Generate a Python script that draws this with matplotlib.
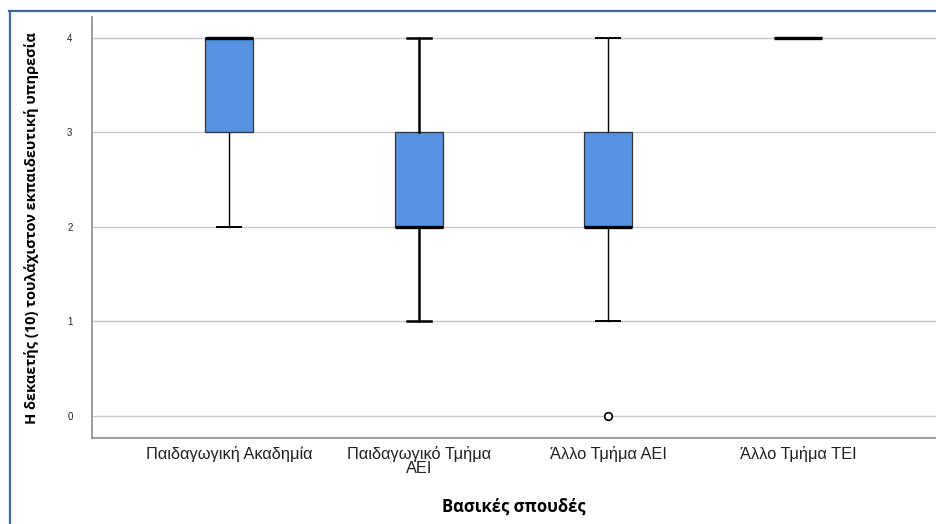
import matplotlib
matplotlib.use("Agg")
import matplotlib.pyplot as plt
from matplotlib.lines import Line2D

# ---------------- Data ----------------
categories = ["Παιδαγωγική Ακαδημία", "Παιδαγωγικό Τμήμα\nΑΕΙ", "Άλλο Τμήμα ΑΕΙ", "Άλλο Τμήμα ΤΕΙ"]
q1 = [3, 2, 2, 4]
median = [4, 2, 2, 4]
q3 = [4, 3, 3, 4]
whis_lo = [2, 1, 1, 4]
whis_hi = [4, 4, 4, 4]
outliers = [[], [], [0], []]
whisker_lw = [1.0, 1.8, 1.0, 1.0]

y_ticks = [0, 1, 2, 3, 4]
y_label = "Η δεκαετής (10) τουλάχιστον εκπαιδευτική υπηρεσία"
x_label = "Βασικές σπουδές"

BOX_COLOR = "#5592e1"

W, H = 936, 524
fig = plt.figure(figsize=(W / 100, H / 100), dpi=100)
ax = fig.add_axes([92 / W, 1 - 438 / H, 1 - 92 / W, (438 - 17) / H])

stats = []
for i in range(len(categories)):
    stats.append(dict(med=median[i], q1=q1[i], q3=q3[i],
                      whislo=whis_lo[i], whishi=whis_hi[i],
                      fliers=outliers[i], label=categories[i]))

positions = list(range(1, len(categories) + 1))
res = ax.bxp(stats, positions=positions, widths=0.253, patch_artist=True,
             showfliers=True,
             boxprops=dict(facecolor=BOX_COLOR, edgecolor="#333333", linewidth=0.9),
             medianprops=dict(color="black", linewidth=2.4, solid_capstyle="butt"),
             whiskerprops=dict(color="black", linewidth=1.0),
             capprops=dict(color="black", linewidth=1.0),
             flierprops=dict(marker="o", markerfacecolor="white", markeredgecolor="black",
                             markersize=5.5, markeredgewidth=1.2),
             zorder=3)

for i, lw in enumerate(whisker_lw):
    for art in res["whiskers"][2 * i:2 * i + 2] + res["caps"][2 * i:2 * i + 2]:
        art.set_linewidth(lw)
# caps width as in the reference (about half the box)
for c in res["caps"]:
    xs = c.get_xdata()
    mid = (xs[0] + xs[1]) / 2
    c.set_xdata([mid - 0.063, mid + 0.063])
    c.set_linewidth(max(c.get_linewidth(), 1.4))

ax.set_xlim(1 - 137 / 189.7, 4 + 138 / 189.7)
ax.set_ylim(-0.233, 4.22)
ax.set_yticks(y_ticks)
ax.yaxis.grid(True, color="#c8c8c8", linewidth=1.0, zorder=0)
ax.set_axisbelow(True)

for s in ["top", "right"]:
    ax.spines[s].set_visible(False)
for s in ["left", "bottom"]:
    ax.spines[s].set_color("#8c8c8c")
    ax.spines[s].set_linewidth(1.2)

ax.tick_params(axis="y", length=0, pad=14, labelsize=7, labelcolor="#222222")
ax.tick_params(axis="x", length=0, pad=6, labelsize=11.8, labelcolor="#222222")
for lab in ax.get_xticklabels():
    lab.set_fontfamily("Liberation Sans")
    lab.set_linespacing(0.85)
for lab in ax.get_yticklabels():
    lab.set_fontfamily("Liberation Sans")

ax.set_xlabel(x_label, fontsize=12, fontweight="bold", family="Open Sans", labelpad=16)
ax.set_ylabel(y_label, fontsize=10.5, fontweight="bold", family="Open Sans", labelpad=20)

# frame around the picture (left and top edges visible)
border = "#3f6a9c"
fig.add_artist(Line2D([9.5 / W, 9.5 / W], [0, 1 - 11 / H], transform=fig.transFigure,
                      color=border, linewidth=1.6))
fig.add_artist(Line2D([9 / W, 1], [1 - 11 / H, 1 - 11 / H], transform=fig.transFigure,
                      color=border, linewidth=1.6))

fig.savefig("out.png", dpi=100)
